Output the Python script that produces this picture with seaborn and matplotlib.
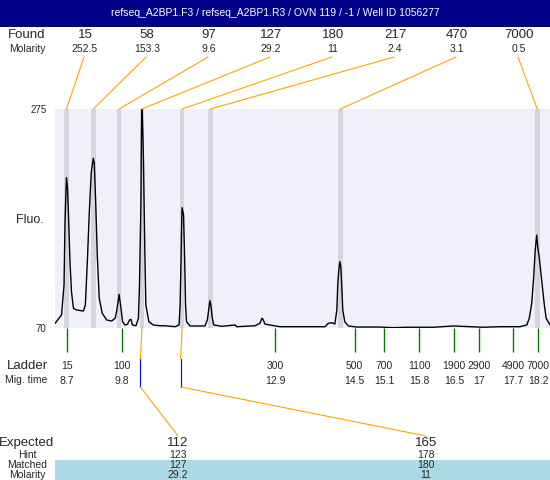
import numpy as np
import pandas as pd
import matplotlib
matplotlib.use("Agg")
import matplotlib.pyplot as plt
from matplotlib.patches import Rectangle
from matplotlib.lines import Line2D
import seaborn as sns

# electropherogram trace (migration time, fluorescence)
trace_time = [8.46, 8.59, 8.64, 8.66, 8.68, 8.69, 8.71, 8.73, 8.76, 8.79, 8.83, 8.90,
              9.03, 9.07, 9.11, 9.15, 9.19, 9.23, 9.25, 9.28, 9.31, 9.35, 9.41, 9.50,
              9.60, 9.67, 9.70, 9.73, 9.75, 9.78, 9.82, 9.87, 9.92, 9.96, 9.99, 10.02,
              10.09, 10.14, 10.16, 10.19, 10.20, 10.21, 10.24, 10.27, 10.29, 10.35, 10.44,
              10.58, 10.68, 10.88, 10.96, 10.98, 11.00, 11.01, 11.02, 11.05, 11.07, 11.09,
              11.11, 11.18, 11.48, 11.53, 11.56, 11.58, 11.60, 11.63, 11.66, 11.82, 12.09,
              12.12, 12.49, 12.59, 12.63, 12.65, 12.69, 12.79, 12.99, 13.40, 13.90, 13.97,
              14.04, 14.10, 14.14, 14.16, 14.18, 14.20, 14.22, 14.24, 14.26, 14.30, 14.37,
              14.54, 15.01, 15.27, 15.55, 16.09, 16.49, 17.09, 17.43, 17.83, 17.97, 18.02,
              18.07, 18.11, 18.14, 18.17, 18.19, 18.22, 18.27, 18.32, 18.36, 18.40, 18.44]
trace_fluo = [74.4, 82.2, 110.2, 169.5, 199.2, 210.7, 201.0, 175.8, 132.1, 104.0, 88.4, 86.8,
              85.9, 91.5, 132.1, 178.9, 216.3, 228.8, 224.2, 185.1, 138.3, 97.8, 83.8, 77.5,
              76.5, 79.1, 85.3, 94.6, 101.5, 91.5, 75.9, 72.8, 73.5, 77.5, 78.1, 72.8,
              72.1, 79.1, 107.2, 185.1, 244.4, 285.0, 231.9, 138.3, 91.5, 75.9, 72.8,
              72.1, 72.1, 71.2, 72.8, 91.5, 135.2, 163.3, 182.6, 175.8, 138.3, 91.5,
              75.9, 71.9, 71.9, 77.5, 88.4, 95.5, 91.5, 79.1, 72.8, 71.6, 72.8,
              71.2, 72.1, 74.4, 79.1, 78.4, 73.7, 72.8, 71.2, 71.2, 71.2, 74.4,
              75.0, 73.7, 86.8, 111.8, 124.3, 132.1, 127.4, 108.7, 86.8, 75.9, 71.9,
              70.9, 70.9, 70.3, 70.7, 70.7, 71.9, 70.7, 71.2, 71.2, 72.8, 79.1,
              93.1, 118.0, 143.0, 157.0, 146.1, 136.7, 114.9, 93.1, 79.1, 75.9, 72.8]

# found peaks
found_size = ["15", "58", "97", "127", "180", "217", "470", "7000"]
found_molarity = ["252.5", "153.3", "9.6", "29.2", "11", "2.4", "3.1", "0.5"]
found_time = [8.69, 9.23, 9.75, 10.21, 11.02, 11.59, 14.21, 18.18]

# ladder
ladder_size = ["15", "100", "300", "500", "700", "1100", "1900", "2900", "4900", "7000"]
ladder_time = [8.7, 9.8, 12.9, 14.5, 15.1, 15.8, 16.5, 17.0, 17.7, 18.2]

# expected vs matched
expected = ["112", "165"]
hint = ["123", "178"]
matched = ["127", "180"]
matched_molarity = ["29.2", "11"]
matched_time = [10.21, 11.02]

title = "refseq_A2BP1.F3 / refseq_A2BP1.R3 / OVN 119 / -1 / Well ID 1056277"

sns.set_style("white")
plt.rcParams['font.family'] = ['Liberation Sans', 'DejaVu Sans']

W, H = 550, 480
fig = plt.figure(figsize=(5.5, 4.8), dpi=100)
ax = fig.add_axes([55 / W, 1 - 328 / H, 495 / W, 219 / H])
ax.set_facecolor("#f0f0fc")
ax.set_xlim(8.458, 18.438)
ax.set_ylim(70, 275)

for t in found_time:
    ax.axvspan(t - 0.048, t + 0.048, color="#d4d4e2", lw=0, zorder=1)

df = pd.DataFrame({"time": trace_time, "fluo": trace_fluo})
sns.lineplot(data=df, x="time", y="fluo", ax=ax, color="black", lw=1, zorder=3)

ax.set_yticks([70, 275])
ax.set_yticklabels(["70", "275"], fontsize=7)
ax.set_xticks(ladder_time)
ax.set_xticklabels([])
ax.tick_params(axis="y", left=True, length=0, pad=6)
ax.tick_params(axis="x", bottom=True, direction="out", length=17.5, width=1,
               color="#007a00")
ax.set_xlabel("")
ax.set_ylabel("")
for s in ax.spines.values():
    s.set_visible(False)


def px(x, y):
    return x / W, 1 - y / H


def data_px(t):
    return ax.transData.transform((t, 70))[0]


def ftext(x, y, s, size, **kw):
    fx, fy = px(x, y)
    fig.text(fx, fy, s, ha="center", va="center", fontsize=size, **kw)


def fline(xs, ys, color, lw=0.8):
    pts = [px(x, y) for x, y in zip(xs, ys)]
    fig.add_artist(Line2D([p[0] for p in pts], [p[1] for p in pts],
                          transform=fig.transFigure, color=color, lw=lw))


# title bar
fig.add_artist(Rectangle(px(0, 27), 1, 27 / H, transform=fig.transFigure,
                         color="#000088", lw=0))
ftext(275, 13.5, title, 7.5, color="white")

# found row
ftext(27, 35, "Found", 9.5)
ftext(27, 49, "Molarity", 7.5)
for i, (s, m, t) in enumerate(zip(found_size, found_molarity, found_time)):
    lx = 85 + 62 * i
    ftext(lx, 35, s, 9.5)
    ftext(lx, 49, m, 7.5)
    fline([lx - 1, data_px(t)], [57, 109], "#ffa500")

ftext(30, 220, "Fluo.", 9)

# ladder labels
ftext(27, 366, "Ladder", 9.5)
ftext(26, 380, "Mig. time", 7.5)
for s, t in zip(ladder_size, ladder_time):
    x = data_px(t)
    ftext(x, 366, s, 7.5)
    ftext(x, 381, f"{t:g}", 7.5)

# matched row background
fig.add_artist(Rectangle(px(55, 480), 495 / W, 20 / H, transform=fig.transFigure,
                         color="#add8e6", lw=0))

ftext(27, 443, "Expected", 9.5)
ftext(27, 455.5, "Hint", 7.5)
ftext(27, 465.5, "Matched", 7.5)
ftext(27, 475, "Molarity", 7.5)
exp_x = [178, 426]
for e, h, m, mo, t, ex in zip(expected, hint, matched, matched_molarity, matched_time, exp_x):
    ftext(ex, 443, e, 9.5)
    ftext(ex, 455.5, h, 7.5)
    ftext(ex, 465.5, m, 7.5)
    ftext(ex, 475, mo, 7.5)
    bx = data_px(t)
    fline([bx, bx - 1.5], [328, 359], "#ffa500")
    fline([bx - 1.5, bx - 1.5], [359, 387], "#0000ff")
    fline([bx - 1.5, ex], [387, 436], "#ffa500")

fig.savefig("out.png", dpi=100)
